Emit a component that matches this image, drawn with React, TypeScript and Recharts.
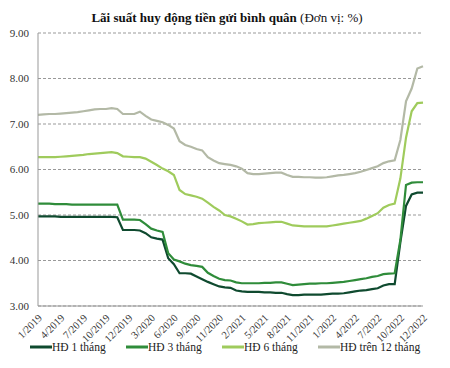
import React from "react";
import { LineChart, Line, XAxis, YAxis, CartesianGrid, Legend } from "recharts";

// tick labels shown every 4th point
const monthLabels = [
  "1/2019", "4/2019", "7/2019", "10/2019", "12/2019", "3/2020", "6/2020", "9/2020", "11/2020",
  "2/2021", "5/2021", "8/2021", "11/2021", "1/2022", "4/2022", "7/2022", "10/2022", "12/2022",
];

const oneMonth = [
  4.97, 4.97, 4.97, 4.97, 4.96, 4.96, 4.96, 4.96, 4.96, 4.96, 4.96, 4.96, 4.96, 4.96, 4.95,
  4.67, 4.67, 4.67, 4.66, 4.6, 4.51, 4.48, 4.46, 4.05, 3.92, 3.72, 3.72, 3.71, 3.65, 3.59,
  3.53, 3.48, 3.43, 3.41, 3.4, 3.34, 3.32, 3.31, 3.31, 3.31, 3.3, 3.3, 3.29, 3.29, 3.26,
  3.24, 3.24, 3.25, 3.25, 3.25, 3.25, 3.26, 3.27, 3.27, 3.28, 3.3, 3.32, 3.34, 3.35, 3.37,
  3.39, 3.45, 3.48, 3.48, 4.4, 5.2, 5.45, 5.49, 5.49,
];

const threeMonth = [
  5.25, 5.25, 5.25, 5.24, 5.24, 5.24, 5.23, 5.23, 5.23, 5.23, 5.23, 5.23, 5.23, 5.23, 5.23,
  4.9, 4.9, 4.9, 4.89, 4.8, 4.7, 4.66, 4.63, 4.16, 4.02, 3.98, 3.93, 3.9, 3.88, 3.86,
  3.73, 3.66, 3.6, 3.57, 3.56, 3.52, 3.5, 3.5, 3.5, 3.5, 3.51, 3.51, 3.52, 3.52, 3.49,
  3.46, 3.47, 3.48, 3.49, 3.49, 3.5, 3.5, 3.51, 3.52, 3.53, 3.55, 3.57, 3.59, 3.61, 3.64,
  3.66, 3.7, 3.71, 3.72, 4.45, 5.66, 5.71, 5.72, 5.72,
];

const sixMonth = [
  6.27, 6.27, 6.27, 6.27, 6.28, 6.29, 6.3, 6.31, 6.32, 6.34, 6.35, 6.36, 6.37, 6.38, 6.36,
  6.29, 6.28, 6.27, 6.27, 6.24, 6.17, 6.1, 6.02, 5.96, 5.88, 5.55, 5.46, 5.43, 5.4, 5.36,
  5.27, 5.18, 5.1, 5.0, 4.97, 4.92, 4.86, 4.79, 4.8, 4.82, 4.83, 4.84, 4.85, 4.85, 4.81,
  4.77, 4.76, 4.75, 4.75, 4.75, 4.75, 4.75, 4.77, 4.79, 4.81, 4.83, 4.85, 4.87, 4.92, 4.98,
  5.04, 5.16, 5.22, 5.25, 5.8, 6.7, 7.28, 7.46, 7.47,
];

const overTwelve = [
  7.2, 7.21, 7.22, 7.22, 7.23, 7.24, 7.25, 7.26, 7.28, 7.3, 7.32, 7.33, 7.33, 7.35, 7.33,
  7.22, 7.22, 7.22, 7.27, 7.18, 7.1, 7.07, 7.04, 6.98, 6.9, 6.62, 6.54, 6.5, 6.45, 6.42,
  6.27, 6.2, 6.14, 6.12, 6.1, 6.07, 6.02, 5.92, 5.9, 5.9, 5.91, 5.92, 5.93, 5.93, 5.88,
  5.84, 5.84, 5.83, 5.83, 5.82, 5.82, 5.83, 5.85, 5.87, 5.88, 5.9, 5.92, 5.95, 5.99, 6.03,
  6.07, 6.14, 6.18, 6.2, 6.65, 7.5, 7.78, 8.22, 8.27,
];

const yTicks = [3, 4, 5, 6, 7, 8, 9];

const series = [
  { key: "m1", name: "HĐ 1 tháng", color: "#0f4a2f" },
  { key: "m3", name: "HĐ 3 tháng", color: "#2f8c3a" },
  { key: "m6", name: "HĐ 6 tháng", color: "#9fcb5c" },
  { key: "m12", name: "HĐ trên 12 tháng", color: "#b3b9a6" },
];

const data = oneMonth.map((v, i) => ({
  idx: i,
  m1: v,
  m3: threeMonth[i],
  m6: sixMonth[i],
  m12: overTwelve[i],
}));

const FONT = "'Liberation Serif', 'Times New Roman', serif";

const XTick = (props: any) => {
  const { x, y, payload } = props;
  const label = payload.value % 4 === 0 ? monthLabels[payload.value / 4] : "";
  const ax = x + 2;
  const ay = y + 10;
  return (
    <text
      x={ax}
      y={ay}
      dy="0.35em"
      transform={`rotate(-45, ${ax}, ${ay})`}
      textAnchor="end"
      fontSize={10.5}
      fontFamily={FONT}
      fill="#333"
    >
      {label}
    </text>
  );
};

const renderLegend = () => (
  <div
    style={{
      display: "flex",
      fontFamily: FONT,
      fontSize: 11.5,
      color: "#222",
      paddingLeft: 30,
      whiteSpace: "nowrap",
      width: 440,
    }}
  >
    {series.map((s, i) => (
      <span
        key={s.key}
        style={{ display: "flex", alignItems: "center", width: i < series.length - 1 ? 96 : undefined }}
      >
        <svg width={22} height={6}>
          <line x1={0} y1={3} x2={22} y2={3} stroke={s.color} strokeWidth={3} />
        </svg>
        {s.name}
      </span>
    ))}
  </div>
);

export default function App() {
  return (
    <div style={{ position: "fixed", left: 0, top: 0, width: 450, height: 368, background: "#fff" }}>
      <div
        style={{
          position: "absolute",
          left: 0,
          top: 10,
          width: 450,
          textAlign: "center",
          fontFamily: FONT,
          fontSize: 13,
          color: "#111",
          paddingLeft: 2,
        }}
      >
        <b>Lãi suất huy động tiền gửi bình quân</b> (Đơn vị: %)
      </div>
      <LineChart
        width={450}
        height={368}
        data={data}
        margin={{ top: 33, right: 27, left: 0, bottom: 5 }}
      >
        <CartesianGrid vertical={false} stroke="#999" strokeDasharray="3 2" />
        <XAxis
          dataKey="idx"
          interval={0}
          tick={<XTick />}
          tickLine={false}
          tickSize={0}
          tickMargin={0}
          axisLine={{ stroke: "#999" }}
          height={35}
        />
        <YAxis
          domain={[3, 9]}
          ticks={yTicks}
          tickFormatter={(v) => Number(v).toFixed(2)}
          tick={{ fontSize: 11, fontFamily: FONT, fill: "#333" }}
          tickLine={false}
          axisLine={{ stroke: "#999" }}
          width={38}
          tickMargin={3}
        />
        <Legend
          verticalAlign="bottom"
          align="left"
          height={22}
          content={renderLegend}
          wrapperStyle={{ left: 0, width: 450 }}
        />
        {series.map((s) => (
          <Line
            key={s.key}
            type="linear"
            dataKey={s.key}
            name={s.name}
            stroke={s.color}
            strokeWidth={2.2}
            dot={false}
            isAnimationActive={false}
          />
        ))}
      </LineChart>
    </div>
  );
}
